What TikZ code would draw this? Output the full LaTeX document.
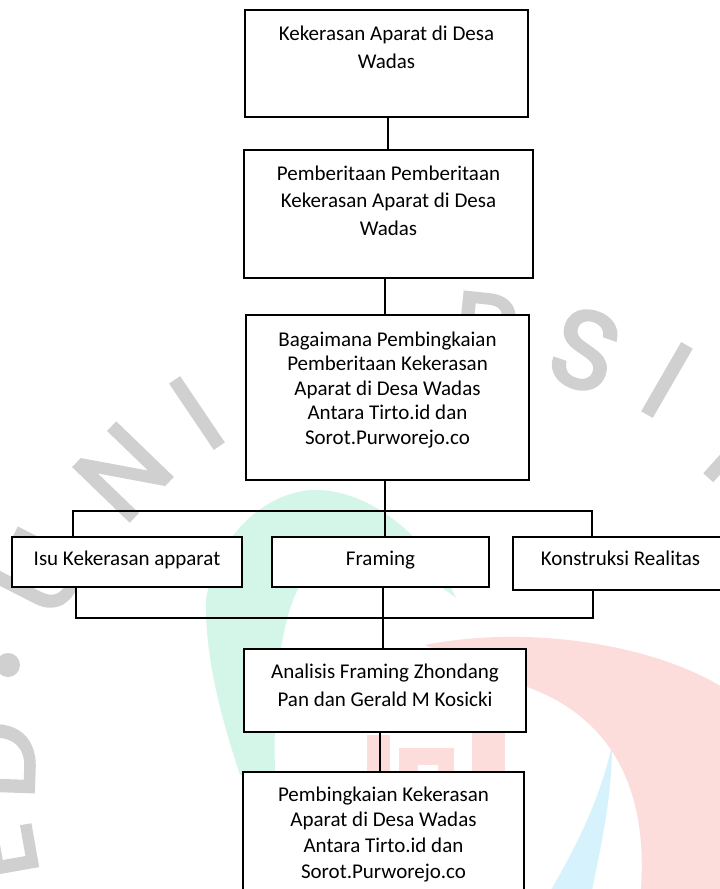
\documentclass[tikz,border=0pt]{standalone}
\usepackage{fontspec}
\setmainfont{Carlito}
\newfontfamily\wmfont[FakeBold=3]{Poppins}
\usetikzlibrary{calc}
\definecolor{wmgray}{RGB}{208,208,208}
\definecolor{wmgreen}{RGB}{212,246,233}
\definecolor{wmred}{RGB}{253,220,220}
\definecolor{wmcyan}{RGB}{214,242,252}
\newcommand\mlines[2]{{\fontsize{21}{#1}\selectfont\begin{tabular}[t]{@{}c@{}}#2\end{tabular}}}
\begin{document}
\begin{tikzpicture}[x=1pt,y=-1pt,
  box/.style={draw, line width=1.3pt, fill=white, inner sep=0pt, outer sep=0pt},
  conn/.style={line width=1.2pt},
  lbl/.style={anchor=base, inner sep=0pt, font=\fontsize{21}{25}\selectfont},
  wm/.style={text=wmgray, font=\wmfont\fontsize{110}{110}\selectfont, inner sep=0pt}]
\useasboundingbox (0,0) rectangle (720,889);
\clip (0,0) rectangle (720,889);
\fill[white] (0,0) rectangle (720,889);
% ---- watermark ----
\fill[wmgreen] (206,600) .. controls (215,540) and (260,495) .. (310,490)
  .. controls (370,487) and (430,540) .. (456,598)
  .. controls (420,570) and (380,552) .. (340,554)
  .. controls (290,562) and (272,640) .. (275,775)
  -- (240,775) .. controls (222,720) and (205,660) .. (206,600) -- cycle;
\fill[wmred] (425,645) .. controls (540,622) and (680,650) .. (740,700)
  -- (740,900) -- (640,900) .. controls (650,800) and (620,710) .. (505,680) -- cycle;
\fill[wmcyan] (612,745) .. controls (612,800) and (600,850) .. (590,900)
  -- (545,900) .. controls (575,850) and (600,800) .. (612,745) -- cycle;
\fill[wmred] (367,735) rectangle (390,900);
\fill[wmred] (399,748) rectangle (454,900);
\fill[white] (418,765) rectangle (438,900);
\fill[wmred] (472,725) rectangle (505,900);
\node[wm, rotate=63] (wU) at (40,572) {U};
\node[wm, rotate=46] (wN) at (123,472) {N};
\node[wm, rotate=34] (wI) at (197,413) {I};
\node[wm, rotate=-6] (wR) at (486,333) {R};
\node[wm, rotate=-19] (wS) at (585,350) {S};
\node[wm, rotate=-30] (wI2) at (667,380) {I};
\node[wm, rotate=-42] (wT) at (735,448) {T};
\fill[wmgray] (8,665) circle (12);
\node[wm, rotate=88] (wD) at (-4,760) {D};
\node[wm, rotate=100] (wE2) at (-4,853) {E};
% ---- boxes ----
\node[box, minimum width=283pt, minimum height=107pt] (b1) at (386.5,63.5) {};
\node[box, minimum width=289pt, minimum height=128pt] (b2) at (388.5,214) {};
\node[box, minimum width=283pt, minimum height=165pt] (b3) at (387.5,397.5) {};
\node[box, minimum width=230pt, minimum height=50pt] (isu) at (127,562) {};
\node[box, minimum width=217pt, minimum height=50pt] (fra) at (380.5,562) {};
\node[box, minimum width=215pt, minimum height=53pt] (kon) at (620.5,563.5) {};
\node[box, minimum width=282pt, minimum height=83pt] (ana) at (385,690.5) {};
\node[box, minimum width=281pt, minimum height=148pt] (fin) at (383.5,846) {};
% ---- texts ----
\node[lbl] (t1) at (386.5,40) {\mlines{28.5}{Kekerasan Aparat di Desa\\Wadas}};
\node[lbl] (t2) at (388.5,180) {\mlines{27.8}{Pemberitaan Pemberitaan\\Kekerasan Aparat di Desa\\Wadas}};
\node[lbl] (t3) at (387.5,346) {\mlines{24.5}{Bagaimana Pembingkaian\\Pemberitaan Kekerasan\\Aparat di Desa Wadas\\Antara Tirto.id dan\\Sorot.Purworejo.co}};
\node[lbl] (tisu) at (127,565) {Isu Kekerasan apparat};
\node[lbl] (tfra) at (380.5,565) {Framing};
\node[lbl] (tkon) at (620.5,565.5) {Konstruksi Realitas};
\node[lbl] (tana) at (385,678.3) {\mlines{27.7}{Analisis Framing Zhondang\\Pan dan Gerald M Kosicki}};
\node[lbl] (tfin) at (383.5,801) {\mlines{25.8}{Pembingkaian Kekerasan\\Aparat di Desa Wadas\\Antara Tirto.id dan\\Sorot.Purworejo.co}};
% ---- connectors ----
\draw[conn] ([xshift=1.5pt]b1.south) -- ([xshift=1.5pt]b1.south |- b2.north);
\draw[conn] ([xshift=-3.5pt]b2.south) -- ([xshift=-3.5pt]b2.south |- b3.north);
\coordinate (hL) at (73,511);
\coordinate (hM) at (385,511);
\coordinate (hR) at (592,511);
\draw[conn] (hM |- b3.south) -- (hM);
\draw[conn] (hL |- isu.north) -- (hL) -- (hR) -- (hR |- kon.north);
\draw[conn] (hM) -- (hM |- fra.north);
\coordinate (bL) at (76,618);
\coordinate (bR) at (593,618);
\draw[conn] (bL |- isu.south) -- (bL) -- (bR) -- (bR |- kon.south);
\draw[conn] ([xshift=2.5pt]fra.south) -- ([xshift=2.5pt]fra.south |- ana.north);
\draw[conn] ([xshift=-5pt]ana.south) -- ([xshift=-5pt]ana.south |- fin.north);
\end{tikzpicture}
\end{document}
